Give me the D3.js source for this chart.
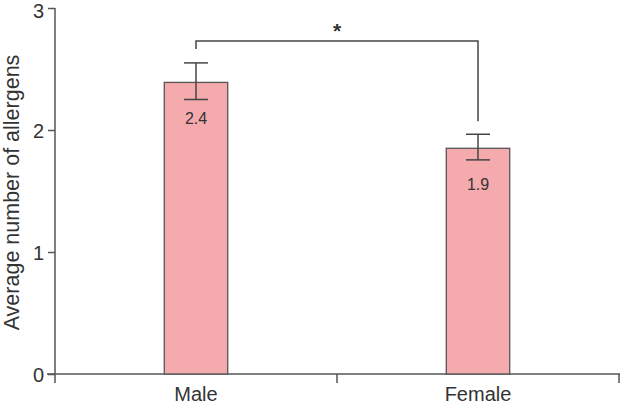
<!DOCTYPE html>
<html><head><meta charset="utf-8">
<script src="https://cdn.jsdelivr.net/npm/d3@7"></script>
<style>body{margin:0;background:#fff}svg{display:block}text{font-family:"Liberation Sans",Arial,sans-serif}</style>
</head><body>
<svg id="c" width="620" height="406"></svg>
<script>
const categories = ["Male", "Female"];
const means = [2.39, 1.85];
const errLow = [2.25, 1.755];
const errHigh = [2.55, 1.965];
const valueLabels = ["2.4", "1.9"];
const yTicks = [0, 1, 2, 3];
const yTitle = "Average number of allergens";
const sigMark = "*";

const svg = d3.select("#c");
const axisColor = "#555";
const textColor = "#333";
const y = d3.scaleLinear().domain([0, 3]).range([374, 8]);
const xb = d3.scaleBand().domain(categories).range([55, 619]).padding(0);
const cx = d => xb(d) + xb.bandwidth() / 2;
const barW = xb.bandwidth() * 0.225;

// y axis
const ya = svg.append("g").attr("transform", "translate(55,0)")
  .call(d3.axisLeft(y).tickValues(yTicks).tickFormat(d3.format("d")).tickSize(7).tickPadding(4));
ya.select(".domain").attr("stroke", axisColor).attr("stroke-width", 1.5);
ya.selectAll(".tick line").attr("stroke", axisColor).attr("stroke-width", 1.5);
ya.selectAll(".tick text").attr("fill", textColor).style("font-size", "20px").attr("dy", d => d === 3 ? "0.45em" : "0.38em");
ya.select(".domain").attr("d", `M0,${y(0)}V${y(3)}`);

// x axis
const xa = svg.append("g").attr("transform", `translate(0,${y(0)})`);
xa.append("line").attr("x1", 47).attr("x2", 620).attr("stroke", axisColor).attr("stroke-width", 1.5);
const bounds = [xb.range()[0], ...categories.map(c => xb(c) + xb.bandwidth())];
xa.selectAll(".xt").data(bounds).join("line").attr("class", "xt")
  .attr("x1", d => d).attr("x2", d => d).attr("y1", 0).attr("y2", 9)
  .attr("stroke", axisColor).attr("stroke-width", 1.5);
xa.selectAll(".xl").data(categories).join("text").attr("class", "xl")
  .attr("x", d => cx(d)).attr("y", 27).attr("text-anchor", "middle")
  .attr("fill", textColor).style("font-size", "20px").text(d => d);

// y title
svg.append("text").attr("transform", `translate(19,192.5) rotate(-90)`)
  .attr("text-anchor", "middle").attr("fill", textColor).style("font-size", "21.5px").text(yTitle);

// bars
svg.selectAll(".bar").data(categories).join("rect").attr("class", "bar")
  .attr("x", d => cx(d) - barW / 2).attr("width", barW)
  .attr("y", (d, i) => y(means[i])).attr("height", (d, i) => y(0) - y(means[i]))
  .attr("fill", "#f5aaae").attr("stroke", "#555").attr("stroke-width", 1.3);

// error bars
const eb = svg.selectAll(".eb").data(categories).join("g").attr("class", "eb");
eb.append("line").attr("x1", d => cx(d)).attr("x2", d => cx(d))
  .attr("y1", (d, i) => y(errLow[i])).attr("y2", (d, i) => y(errHigh[i]));
eb.append("line").attr("x1", d => cx(d) - 12).attr("x2", d => cx(d) + 12)
  .attr("y1", (d, i) => y(errLow[i])).attr("y2", (d, i) => y(errLow[i]));
eb.append("line").attr("x1", d => cx(d) - 12).attr("x2", d => cx(d) + 12)
  .attr("y1", (d, i) => y(errHigh[i])).attr("y2", (d, i) => y(errHigh[i]));
eb.selectAll("line").attr("stroke", "#444").attr("stroke-width", 1.5);

// value labels
svg.selectAll(".vl").data(categories).join("text").attr("class", "vl")
  .attr("x", d => cx(d)).attr("y", (d, i) => y(means[i]) + 42)
  .attr("text-anchor", "middle").attr("fill", textColor).style("font-size", "16px")
  .text((d, i) => valueLabels[i]);

// significance bracket
const by = y(errHigh[0]) - 22;
const x1 = cx(categories[0]), x2 = cx(categories[1]);
svg.append("path")
  .attr("d", `M${x1},${y(errHigh[0]) - 14}V${by}H${x2}V${y(errHigh[1]) - 13}`)
  .attr("fill", "none").attr("stroke", "#444").attr("stroke-width", 1.5);
svg.append("text").attr("x", (x1 + x2) / 2).attr("y", by - 3).attr("text-anchor", "middle")
  .attr("fill", textColor).style("font-size", "21px").style("font-weight", "bold").text(sigMark);
</script>
</body></html>
